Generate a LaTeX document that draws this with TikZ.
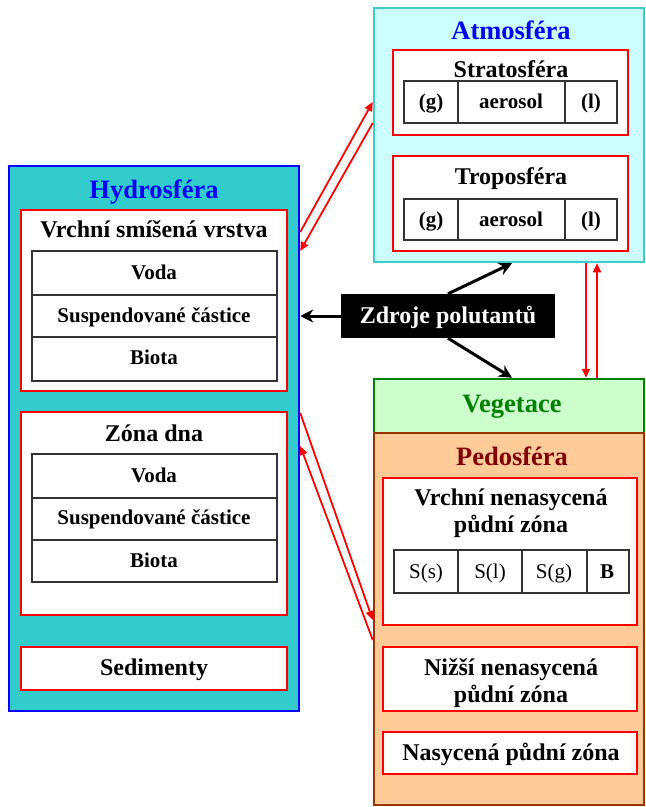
\documentclass[tikz,border=0pt]{standalone}
\usepackage{fontspec}
\setmainfont{Liberation Serif}
\usetikzlibrary{arrows.meta}
\definecolor{hydfill}{HTML}{33CCCC}
\definecolor{atmfill}{HTML}{CCFFFF}
\definecolor{atmline}{HTML}{40CCCC}
\definecolor{vegfill}{HTML}{CCFFCC}
\definecolor{veggreen}{HTML}{008000}
\definecolor{pedfill}{HTML}{FFCC99}
\definecolor{pedline}{HTML}{993300}
\definecolor{pedtext}{HTML}{800000}
\newcommand\fTitle{\fontsize{26.5}{28}\selectfont\bfseries}
\newcommand\fSub{\fontsize{24}{28}\selectfont\bfseries}
\newcommand\fCell{\fontsize{21}{24}\selectfont\bfseries}
\newcommand\fCellR{\fontsize{21}{24}\selectfont}
% box: style, name, x1, y1, x2, y2
\newcommand\rbox[6]{\node[#1, minimum width={#5-#3}, minimum height={#6-#4}] (#2) at ({(#3+#5)/2},{(#4+#6)/2}) {};}
% text on baseline: style, name, x, baseline y, text
\newcommand\txt[5]{\node[inner sep=0pt, anchor=base, #1] (#2) at (#3,#4) {#5};}
\tikzset{
  area/.style={inner sep=0pt, line width=2.5pt},
  redbox/.style={draw=red, fill=white, line width=1.3pt, inner sep=0pt},
  cell/.style={draw=black!80, fill=white, line width=1.3pt, inner sep=0pt},
  blk/.style={line width=3pt, -{Stealth[length=13pt,width=13pt]}},
  rda/.style={red, line width=1.8pt, -{Triangle[length=9pt,width=8pt]}}
}
\begin{document}
\begin{tikzpicture}[x=1pt,y=-1pt]
\useasboundingbox (0,0) rectangle (646,807);
% main areas
\rbox{area, draw=atmline, fill=atmfill}{atm}{374}{8}{644}{262}
\rbox{area, draw=blue, fill=hydfill}{hyd}{9}{166}{299}{711}
\rbox{area, draw=veggreen, fill=vegfill}{veg}{374}{379}{644}{433}
\rbox{area, draw=pedline, fill=pedfill}{ped}{374}{433}{644}{805}
\txt{font=\fTitle, text=blue}{atmT}{511}{39}{Atmosféra}
\txt{font=\fTitle, text=blue}{hydT}{154}{198}{Hydrosféra}
\txt{font=\fTitle, text=veggreen}{vegT}{512}{412}{Vegetace}
\txt{font=\fTitle, text=pedtext}{pedT}{512}{465}{Pedosféra}
% atmosphere
\rbox{redbox}{strat}{393}{50}{628}{135}
\txt{font=\fSub}{stratT}{511}{77}{Stratosféra}
\rbox{cell}{s1}{404}{81}{458}{123}
\rbox{cell}{s2}{458}{81}{565}{123}
\rbox{cell}{s3}{565}{81}{617}{123}
\txt{font=\fCell}{s1T}{431}{108}{(g)}
\txt{font=\fCell}{s2T}{511}{108}{aerosol}
\txt{font=\fCell}{s3T}{591}{108}{(l)}
\rbox{redbox}{trop}{393}{156}{628}{251}
\txt{font=\fSub}{tropT}{511}{184}{Troposféra}
\rbox{cell}{t1}{404}{199}{458}{240}
\rbox{cell}{t2}{458}{199}{565}{240}
\rbox{cell}{t3}{565}{199}{617}{240}
\txt{font=\fCell}{t1T}{431}{226}{(g)}
\txt{font=\fCell}{t2T}{511}{226}{aerosol}
\txt{font=\fCell}{t3T}{591}{226}{(l)}
% hydrosphere
\rbox{redbox}{vsv}{21}{210}{287}{391}
\txt{font=\fSub}{vsvT}{154}{237}{Vrchní smíšená vrstva}
\rbox{cell}{v1}{32}{251}{277}{295}
\rbox{cell}{v2}{32}{295}{277}{337}
\rbox{cell}{v3}{32}{337}{277}{381}
\txt{font=\fCell}{v1T}{154}{279}{Voda}
\txt{font=\fCell}{v2T}{154}{322}{Suspendované částice}
\txt{font=\fCell}{v3T}{154}{364}{Biota}
\rbox{redbox}{zd}{21}{412}{287}{615}
\txt{font=\fSub}{zdT}{154}{441}{Zóna dna}
\rbox{cell}{z1}{32}{454}{277}{498}
\rbox{cell}{z2}{32}{498}{277}{540}
\rbox{cell}{z3}{32}{540}{277}{582}
\txt{font=\fCell}{z1T}{154}{482}{Voda}
\txt{font=\fCell}{z2T}{154}{524}{Suspendované částice}
\txt{font=\fCell}{z3T}{154}{567}{Biota}
\rbox{redbox}{sed}{21}{647}{287}{690}
\txt{font=\fSub}{sedT}{154}{675}{Sedimenty}
% pedosphere
\rbox{redbox}{vnp}{383}{478}{637}{625}
\txt{font=\fSub}{vnpT1}{511}{505}{Vrchní nenasycená}
\txt{font=\fSub}{vnpT2}{511}{532}{půdní zóna}
\rbox{cell}{p1}{394}{550}{458}{593}
\rbox{cell}{p2}{458}{550}{522}{593}
\rbox{cell}{p3}{522}{550}{587}{593}
\rbox{cell}{p4}{587}{550}{629}{593}
\txt{font=\fCellR}{p1T}{426}{578}{S(s)}
\txt{font=\fCellR}{p2T}{490}{578}{S(l)}
\txt{font=\fCellR}{p3T}{554}{578}{S(g)}
\txt{font=\fCell}{p4T}{607}{578}{B}
\rbox{redbox}{nnp}{383}{647}{637}{711}
\txt{font=\fSub}{nnpT1}{511}{675}{Nižší nenasycená}
\txt{font=\fSub}{nnpT2}{511}{702}{půdní zóna}
\rbox{redbox}{nas}{383}{732}{637}{774}
\txt{font=\fSub}{nasT}{511}{760}{Nasycená půdní zóna}
% sources
\rbox{fill=black, inner sep=0pt}{zdr}{341}{294}{555}{338}
\txt{font=\fSub, text=white}{zdrT}{448}{323}{Zdroje polutantů}
% black arrows
\draw[blk] (zdr.west) -- (hyd.east |- zdr.west);
\draw[blk] (zdr.north) -- ([xshift=3pt]atm.south);
\draw[blk] (zdr.south) -- ([xshift=3pt]veg.north);
% red arrows atm <-> hyd
\draw[rda] (hyd.east |- 0,232) -- (atm.west |- 0,102);
\draw[rda] (atm.west |- 0,123) -- (hyd.east |- 0,251);
% red arrows hyd <-> ped
\draw[rda] (hyd.east |- 0,413) -- (ped.west |- 0,620);
\draw[rda] (ped.west |- 0,640) -- (hyd.east |- 0,446);
% red arrows atm <-> veg
\draw[rda] (atm.south -| 586,0) -- (veg.north -| 586,0);
\draw[rda] (veg.north -| 597,0) -- (atm.south -| 597,0);
\end{tikzpicture}
\end{document}
